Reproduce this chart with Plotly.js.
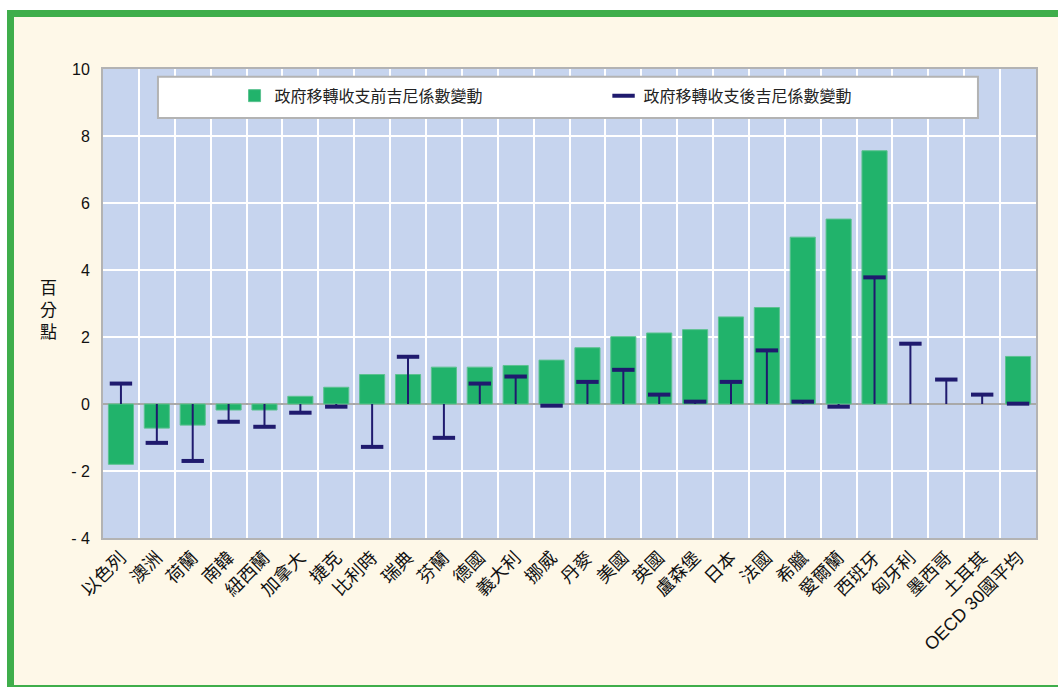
<!DOCTYPE html>
<html>
<head>
<meta charset="utf-8">
<script src="https://cdn.plot.ly/plotly-3.0.1.min.js"></script>
<style>
  html, body { margin: 0; padding: 0; background: #ffffff; width: 1058px; height: 687px; overflow: hidden; }
  #frame { position: absolute; left: 7px; top: 10px; width: 1060px; height: 668px;
           border-left: 7px solid #3fae4b; border-top: 7px solid #3fae4b; border-bottom: 7px solid #3fae4b;
           background: #fef8e8; }
  #chart { position: absolute; left: 0; top: 0; width: 1044px; height: 668px; }
</style>
</head>
<body>
<div id="frame"><div id="chart"></div></div>
<script>
const categories = ["以色列","澳洲","荷蘭","南韓","紐西蘭","加拿大","捷克","比利時","瑞典","芬蘭","德國","義大利","挪威","丹麥","美國","英國","盧森堡","日本","法國","希臘","愛爾蘭","西班牙","匈牙利","墨西哥","土耳其","OECD 30國平均"];
const beforeTransfer = [-1.8,-0.72,-0.63,-0.18,-0.18,0.23,0.5,0.88,0.88,1.1,1.1,1.15,1.31,1.68,2.01,2.12,2.22,2.6,2.88,4.98,5.52,7.56,null,null,null,1.42];
const afterTransfer = [0.61,-1.16,-1.7,-0.53,-0.68,-0.26,-0.08,-1.28,1.41,-1.01,0.61,0.82,-0.05,0.66,1.02,0.28,0.07,0.66,1.6,0.07,-0.08,3.78,1.8,0.73,0.28,0.01];
const seriesNames = ["政府移轉收支前吉尼係數變動","政府移轉收支後吉尼係數變動"];
const yTickVals = [-4,-2,0,2,4,6,8,10];
const yTickText = ["- 4","- 2","0","2","4","6","8","10"];

const navy = "#1f1a6e";
const font = "Liberation Sans, Arial, Noto Sans CJK TC, sans-serif";

const traceBefore = {
  type: "bar", name: seriesNames[0], x: categories, y: beforeTransfer,
  marker: { color: "#21b36b", line: { color: "#5cc290", width: 1 } },
  width: 0.7, hoverinfo: "x+y"
};
const traceAfter = {
  type: "scatter", mode: "markers", name: seriesNames[1], x: categories, y: afterTransfer,
  marker: { symbol: "line-ew", size: 16, color: navy, line: { color: navy, width: 4 } },
  error_y: {
    type: "data", symmetric: false,
    array: afterTransfer.map(v => v < 0 ? -v : 0),
    arrayminus: afterTransfer.map(v => v > 0 ? v : 0),
    width: 0, thickness: 2, color: navy
  }
};

const layout = {
  width: 1044, height: 668,
  margin: { l: 89, r: 22, t: 52, b: 147 },
  paper_bgcolor: "rgba(0,0,0,0)",
  plot_bgcolor: "#c6d4ee",
  font: { family: font, size: 15, color: "#111111" },
  showlegend: true,
  legend: {
    orientation: "h", x: 0.141, xanchor: "left", y: 0.943, yanchor: "middle",
    bgcolor: "rgba(0,0,0,0)", entrywidth: 324, font: { size: 16, color: "#222222" }
  },
  xaxis: {
    type: "category", tickangle: -45, tickson: "boundaries", ticks: "",
    showgrid: true, gridcolor: "#ffffff", gridwidth: 2,
    showline: true, linecolor: "#b3b3b3", linewidth: 2, mirror: true,
    tickfont: { size: 18, color: "#111111" }, range: [-0.5, 25.5]
  },
  yaxis: {
    range: [-4, 10], tickvals: yTickVals, ticktext: yTickText,
    showgrid: true, gridcolor: "#ffffff", gridwidth: 2,
    zeroline: true, zerolinecolor: "#a9a9a9", zerolinewidth: 2,
    showline: true, linecolor: "#b3b3b3", linewidth: 2, mirror: true,
    tickfont: { size: 16, color: "#111111" }, ticklen: 8, ticks: "outside", tickcolor: "rgba(0,0,0,0)"
  },
  shapes: [{
    type: "rect", xref: "paper", yref: "paper", layer: "above",
    x0: 0.0589, x1: 0.9378, y0: 0.8955, y1: 0.9836,
    fillcolor: "#ffffff", line: { color: "#b3b3b3", width: 2 }
  }],
  annotations: [{
    xref: "paper", yref: "paper", x: 0, xshift: -55, y: 0.486, xanchor: "center", yanchor: "middle",
    text: "百<br>分<br>點", showarrow: false, font: { size: 17, color: "#111111" }
  }]
};

Plotly.newPlot("chart", [traceBefore, traceAfter], layout, { displayModeBar: false, staticPlot: true });
</script>
</body>
</html>
